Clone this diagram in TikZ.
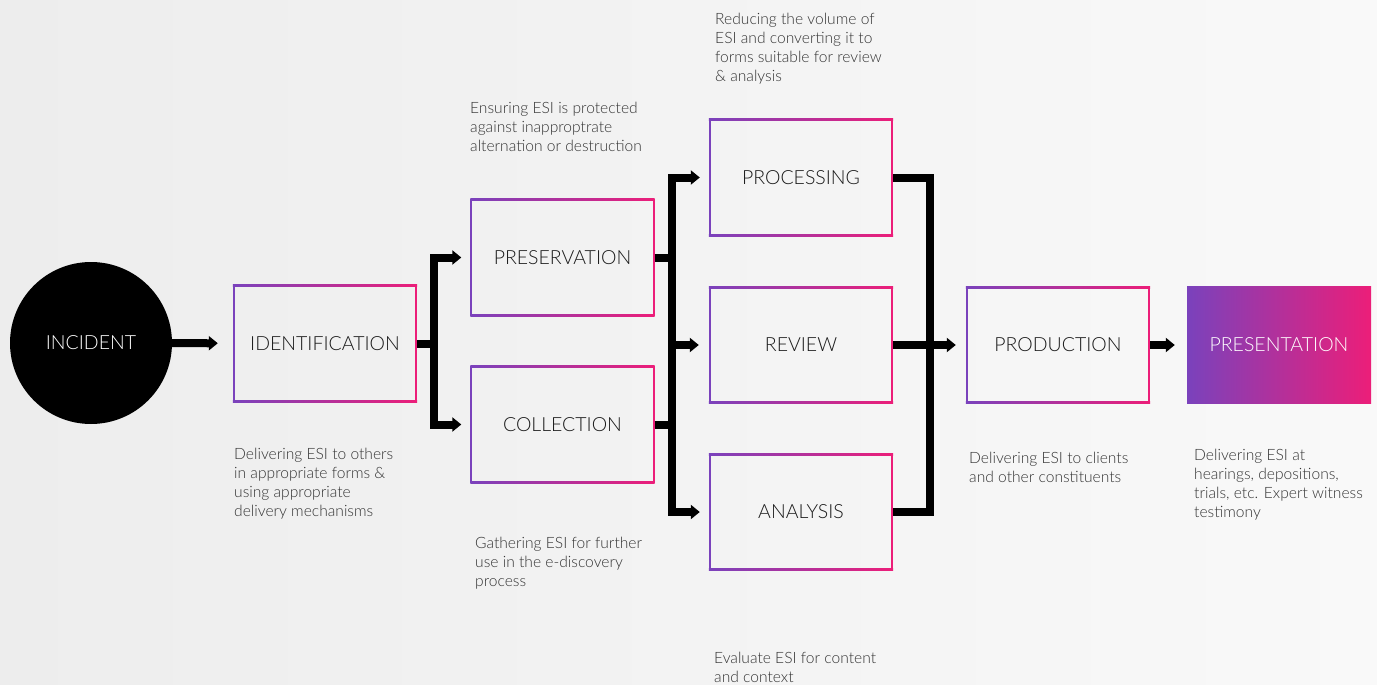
\documentclass[tikz,border=0pt]{standalone}
\usepackage{fontspec}
\setmainfont{Lato Light}
\usetikzlibrary{arrows.meta}
\definecolor{grpurple}{HTML}{7A42BC}
\definecolor{grpink}{HTML}{EC1E79}
\definecolor{bgleft}{HTML}{EDEDED}
\definecolor{bgright}{HTML}{F9F9F9}
\definecolor{desctext}{HTML}{333333}
\definecolor{labeltext}{HTML}{1A1A1A}

\begin{document}
\begin{tikzpicture}[x=1pt,y=-1pt,
    stage/.style={minimum width=184pt,minimum height=117pt,inner sep=0pt,
      font=\fontsize{19.5}{24}\selectfont,text=labeltext},
    note/.style={anchor=north west,inner sep=0pt,align=left,
      font=\fontsize{15.6}{19}\selectfont,text=desctext},
    flow/.style={line width=8pt,line join=miter},
    arrowflow/.style={-{Triangle[width=14pt,length=9pt]},shorten >=10pt},
    arrowboth/.style={{Triangle[width=14pt,length=9pt]}-{Triangle[width=14pt,length=9pt]},
      shorten <=9pt,shorten >=9pt}]
    % 背景
    \shade[left color=bgleft,right color=bgright] (0,0) rectangle (1377,685);
    \useasboundingbox (0,0) rectangle (1377,685);

    % 阶段
    \node[circle,fill=black,minimum size=162pt,inner sep=0pt,text=white,
      font=\fontsize{19.5}{24}\selectfont] (incident) at (91,343) {INCIDENT};
    \node[stage] (ident) at (325,343.5) {IDENTIFICATION};
    \node[stage] (pres) at (562.5,257.5) {PRESERVATION};
    \node[stage] (coll) at (562.5,424.5) {COLLECTION};
    \node[stage] (proc) at (801,177.5) {PROCESSING};
    \node[stage] (rev) at (801,345) {REVIEW};
    \node[stage] (anal) at (801,512) {ANALYSIS};
    \node[stage] (prod) at (1058,345) {PRODUCTION};
    \node[stage,left color=grpurple,right color=grpink,text=white] (present) at (1279,345) {PRESENTATION};

    % 渐变边框
    \foreach \b in {ident,pres,coll,proc,rev,anal,prod}{
      \shade[left color=grpurple,right color=grpink] (\b.north west) rectangle ([yshift=-2pt]\b.north east);
      \shade[left color=grpurple,right color=grpink] (\b.south west) rectangle ([yshift=2pt]\b.south east);
      \fill[grpurple] (\b.south west) rectangle ([xshift=2pt]\b.north west);
      \fill[grpink] ([xshift=-2pt]\b.south east) rectangle (\b.north east);
    }

    % 箭头
    \draw[flow,arrowflow,shorten >=15pt] (incident) -- (ident);

    \coordinate (j1) at (434,343.5);
    \draw[flow] (ident.east) -- (j1);
    \draw[flow,arrowboth] (pres.west) -| (j1) |- (coll.west);

    \coordinate (j2) at (672,345);
    \draw[flow] (pres.east) -- (pres.east -| j2);
    \draw[flow] (coll.east) -- (coll.east -| j2);
    \draw[flow,arrowboth] (proc.west) -| (j2) |- (anal.west);
    \draw[flow,arrowflow] (j2) -- (rev.west);

    \coordinate (j3) at (930,345);
    \draw[flow] (proc.east) -| (j3) |- (anal.east);
    \draw[flow,arrowflow] (rev.east) -- (prod.west);
    \draw[flow,arrowflow,shorten >=12pt] (prod.east) -- (present.west);

    % 说明文字
    \node[note] (n-proc) at (715,12.5) {Reducing the volume of\\ESI and converting it to\\forms suitable for review\\\& analysis};
    \node[note] (n-pres) at (470,101.5) {Ensuring ESI is protected\\against inapproptrate\\alternation or destruction};
    \node[note] (n-ident) at (234,448) {Delivering ESI to others\\in appropriate forms \&\\using appropriate\\delivery mechanisms};
    \node[note] (n-coll) at (475,536.5) {Gathering ESI for further\\use in the e-discovery\\process};
    \node[note] (n-anal) at (714,651.5) {Evaluate ESI for content\\and context};
    \node[note] (n-prod) at (969,451.5) {Delivering ESI to clients\\and other constituents};
    \node[note] (n-present) at (1194,449) {Delivering ESI at\\hearings, depositions,\\trials, etc. Expert witness\\testimony};
\end{tikzpicture}
\end{document}
